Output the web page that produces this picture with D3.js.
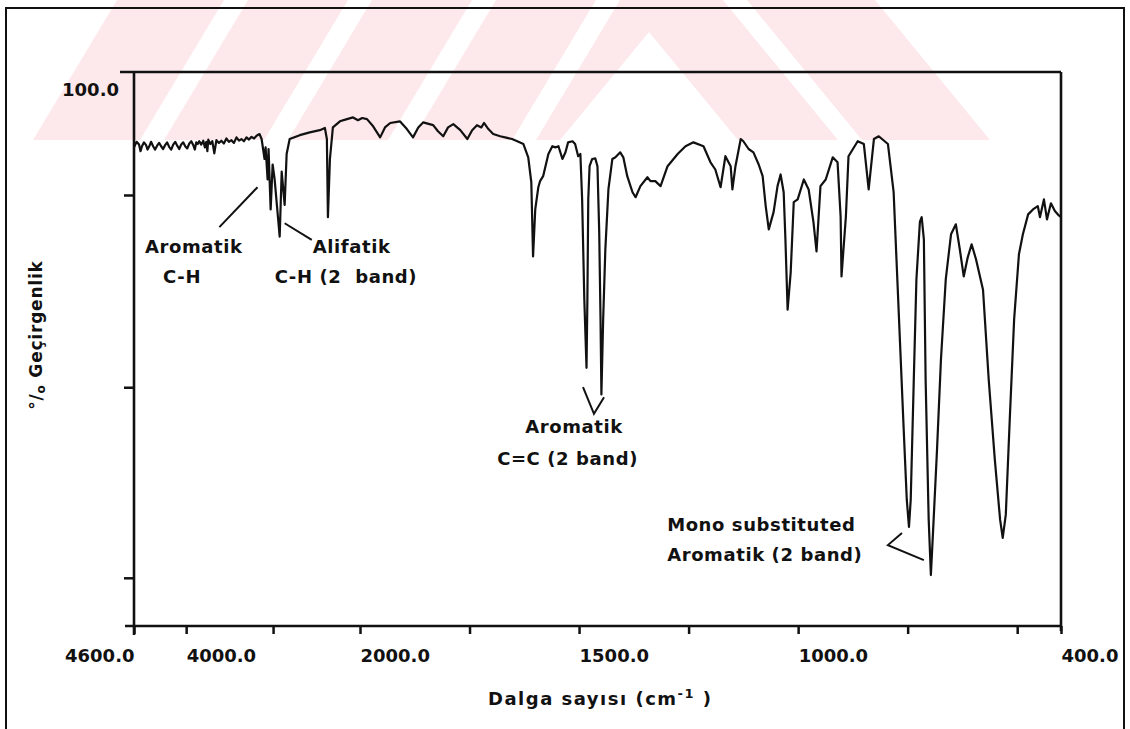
<!DOCTYPE html>
<html>
<head>
<meta charset="utf-8">
<script src="https://cdn.jsdelivr.net/npm/d3@7"></script>
<style>
  body { margin: 0; background: #fff; }
  text { font-family: "DejaVu Sans", sans-serif; font-weight: bold; fill: #111; }
</style>
</head>
<body>
<div id="chart"></div>
<script>
// IR spektrumu - dalga sayisi (cm-1) / % gecirgenlik
var wavenumber = [4600,4570,4542,4525,4508,4485,4461,4444,4427,4404,4380,4357,4334,4311,4288,4265,4242,4219,4196,4172,
  4149,4126,4103,4080,4057,4034,4011,3988,3964,3941,3918,3900,3884,3866,3849,3826,3803,3785,3768,3756,
  3745,3722,3699,3676,3652,3623,3595,3566,3537,3508,3479,3450,3421,3392,3364,3335,3306,3277,3248,3219,
  3190,3156,3132,3098,3086,3063,3052,3028,3005,
  2982,2924,2901,2867,2844,2809,2693,2578,2462,2404,2381,2369,2346,2312,2231,2150,2080,2023,
  1995,1984,1970,1954,1943,1931,1909,1893,1879,1867,1856,1833,1822,1810,1799,1787,1771,1755,1744,1733,
  1723,1717,1707,1696,1680,1664,1653,1641,1627,1616,1609,1605,1600,1593,1589,1582,1570,1561,1554,1547,
  1538,1531,1525,1515,1509,1502,1497,1493,1488,1483,1481,1479,1476,1470,1463,1458,1454,1451,1449,1445,
  1440,1433,1424,1417,1406,1399,1390,1378,1371,1360,1344,1337,1326,1314,1298,1275,1257,1239,1216,1200,
  1189,1177,1166,1154,1150,1143,1131,1125,1113,1102,1090,1081,1074,1067,1056,1047,1040,1033,1029,1024,
  1017,1010,1001,987,976,965,958,949,937,921,910,903,901,891,885,864,850,839,827,816,
  795,782,770,759,752,747,743,736,730,722,718,713,709,702,697,693,683,674,663,651,
  640,631,622,613,604,594,578,565,551,539,533,526,517,507,496,487,475,464,453,448,
  439,432,423,414,405,400];
var transmittance = [86.4,87.4,86.9,85.7,86.6,87.3,86.8,86.0,86.5,87.4,86.6,86.0,86.7,87.2,86.6,86.1,86.8,87.3,86.5,86.0,
  86.9,87.4,86.7,86.1,86.9,87.3,86.6,86.2,87.1,87.5,86.8,86.0,87.3,87.0,87.5,86.9,87.6,86.4,87.4,85.7,
  87.8,87.0,87.5,85.3,87.7,87.2,87.6,87.1,88.0,87.4,87.7,87.2,88.2,87.6,87.9,87.5,88.2,87.8,88.3,88.0,
  88.5,88.8,87.9,84.3,86.4,80.6,86.1,75.2,83.3,
  80.6,70.3,82.0,76.0,85.2,87.9,88.6,89.1,89.5,89.9,87.9,73.8,84.3,90.0,91.1,91.5,91.8,91.3,
  91.7,91.5,90.2,88.2,90.0,90.8,91.1,89.7,88.2,90.0,90.9,90.4,89.3,88.4,90.0,90.6,89.5,87.9,89.5,90.4,
  90.0,90.8,89.7,88.8,88.4,88.1,87.9,87.5,87.0,84.6,80.1,66.7,75.2,79.2,80.3,81.2,85.2,86.6,86.4,86.6,
  84.3,85.5,87.3,87.5,87.0,84.8,85.2,77.0,58.9,46.6,58.9,77.0,83.0,84.3,84.4,83.0,71.1,55.3,41.8,55.3,
  68.0,78.8,84.3,84.6,85.5,84.6,81.2,78.3,77.4,79.4,81.0,80.3,80.3,79.4,83.0,85.2,86.6,87.3,86.6,83.7,
  82.4,79.2,84.8,83.0,78.8,83.0,87.9,87.5,86.1,85.5,83.3,81.2,75.8,71.6,74.7,79.4,81.5,78.3,69.8,57.1,
  63.8,76.5,77.0,80.6,78.8,72.9,67.6,79.4,80.6,84.6,83.7,73.9,63.1,73.9,84.8,87.5,87.0,78.8,87.9,88.4,
  87.0,78.3,55.9,35.4,22.8,17.9,22.8,44.5,62.6,73.0,73.8,69.8,44.5,19.2,9.2,15.5,31.8,48.1,62.6,70.7,
  72.5,68.0,63.1,66.5,68.9,66.2,60.7,44.5,30.0,19.2,15.9,20.1,37.2,55.3,67.1,70.7,74.3,75.2,75.8,73.8,
  77.0,73.4,76.3,74.9,74.1,73.8];

var xTickValues = [4600,4000,3000,2000,1750,1500,1250,1000,750,500,400];
var xLabeled = [4600,4000,2000,1500,1000,400];
var yTickValues = [77.8,43.1,8.7];

var annotations = [
  {text:"Aromatik", wn:4473, t:67.3},
  {text:"C-H", wn:4265, t:61.9},
  {text:"Alifatik", wn:2543, t:67.3},
  {text:"C-H (2  band)", wn:2982, t:61.9},
  {text:"Aromatik", wn:1623, t:34.8},
  {text:"C=C (2 band)", wn:1687, t:29.1},
  {text:"Mono substituted", wn:1299, t:17.1},
  {text:"Aromatik (2 band)", wn:1299, t:11.7}
];
var leaders = [
  [[3618,72.0],[3179,79.2]],
  [[2867,72.7],[2555,69.7]],
  [[1491,43.1],[1466,38.3],[1443,41.3]],
  [[763,16.8],[795,14.6],[713,11.9]]
];

var width = 1130, height = 729;
var svg = d3.select("#chart").append("svg")
  .attr("width", width)
  .attr("height", height);

// filigran (ust kisim)
svg.append("clipPath").attr("id","wmclip")
  .append("rect").attr("x",0).attr("y",0).attr("width",width).attr("height",140);
var wm = svg.append("g").attr("clip-path","url(#wmclip)");
var pink = "#fde8ec";
wm.append("polygon").attr("points","33,140 117,0 875,0 990,140").attr("fill",pink);
[152,276,400,524].forEach(function(c){
  wm.append("polygon")
    .attr("points",[[c-12,140],[c+12,140],[c+96,0],[c+72,0]].join(" "))
    .attr("fill","#fff");
});
wm.append("polygon").attr("points","649,32 560,140 738,140").attr("fill","#fff");
wm.append("polygon").attr("points","838,140 862,140 747,0 723,0").attr("fill","#fff");

// cerceve
svg.append("path")
  .attr("d","M6,729V8H1124V729")
  .attr("fill","none").attr("stroke","#111").attr("stroke-width",2);

var x = d3.scaleLinear().domain([4600,2000,400]).range([134,360,1061]);
var y = d3.scaleLinear().domain([0,100]).range([626,72]);

// eksenler
var xAxis = svg.append("g")
  .attr("transform","translate(0,626)")
  .call(d3.axisBottom(x).tickValues(xTickValues).tickSize(8)
    .tickFormat(function(d){ return xLabeled.indexOf(d) >= 0 ? d3.format(".1f")(d) : ""; }));
xAxis.select(".domain").remove();
xAxis.selectAll("line").attr("stroke","#111").attr("stroke-width",2.5);
xAxis.selectAll("text")
  .attr("y",36).attr("dy",0)
  .attr("text-anchor", function(d){ return d == 4600 ? "end" : "start"; })
  .style("font-size","18px");

var yAxis = svg.append("g")
  .attr("transform","translate(134,0)")
  .call(d3.axisLeft(y).tickValues(yTickValues).tickSize(10).tickFormat(""));
yAxis.select(".domain").remove();
yAxis.selectAll("line").attr("stroke","#111").attr("stroke-width",2.5);

var frame = svg.append("g").attr("stroke","#111").attr("stroke-width",2.6);
frame.append("line").attr("x1",120).attr("x2",x(400)).attr("y1",y(100)).attr("y2",y(100));
frame.append("line").attr("x1",125).attr("x2",x(400)).attr("y1",y(0)).attr("y2",y(0));
frame.append("line").attr("x1",x(4600)).attr("x2",x(4600)).attr("y1",y(100)).attr("y2",635);
frame.append("line").attr("x1",x(400)).attr("x2",x(400)).attr("y1",y(100)).attr("y2",631);

svg.append("text").attr("x",119).attr("y",96).attr("text-anchor","end")
  .style("font-size","18px").text("100.0");

// spektrum
var data = wavenumber.map(function(w,i){ return [w, transmittance[i]]; });
var line = d3.line().x(function(d){ return x(d[0]); }).y(function(d){ return y(d[1]); });
svg.append("path").datum(data)
  .attr("d", line)
  .attr("fill","none").attr("stroke","#111")
  .attr("stroke-width",2.2).attr("stroke-linejoin","round");

// notlar
svg.selectAll(".lead").data(leaders).enter().append("path")
  .attr("class","lead")
  .attr("d", line)
  .attr("fill","none").attr("stroke","#111").attr("stroke-width",2);

svg.selectAll(".note").data(annotations).enter().append("text")
  .attr("class","note")
  .attr("x", function(d){ return x(d.wn); })
  .attr("y", function(d){ return y(d.t); })
  .attr("xml:space","preserve")
  .style("font-size","18px").style("letter-spacing","0.6px")
  .text(function(d){ return d.text; });

// eksen basliklari
var xt = svg.append("text").attr("x",488).attr("y",705)
  .style("font-size","18px").style("letter-spacing","1.5px");
xt.append("tspan").text("Dalga sayısı (cm");
xt.append("tspan").attr("dy",-7).style("font-size","13px").text("-1");
xt.append("tspan").attr("dy",7).text(" )");

var yt = svg.append("text")
  .attr("transform","translate(42,335) rotate(-90)")
  .attr("text-anchor","middle")
  .style("font-size","17px").style("letter-spacing","0.8px");
yt.append("tspan").text("°/");
yt.append("tspan").attr("dy",3).style("font-size","12px").text("o");
yt.append("tspan").attr("dy",-3).text(" Geçirgenlik");
</script>
</body>
</html>
